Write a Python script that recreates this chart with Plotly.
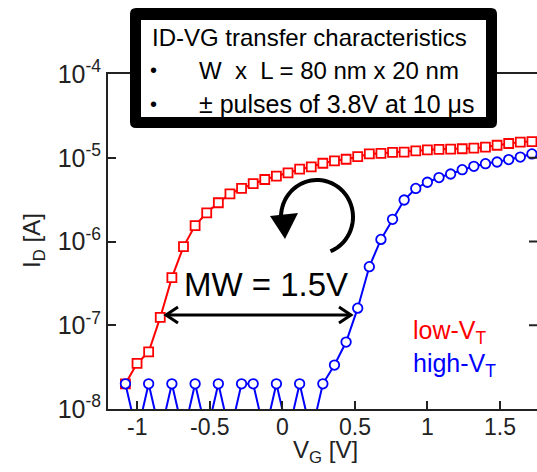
import math
import plotly.graph_objects as go

# Gate-voltage sweep (V)
vg = [-1.08, -1.00, -0.92, -0.84, -0.76, -0.68, -0.60, -0.52, -0.44, -0.36,
      -0.28, -0.20, -0.12, -0.04, 0.04, 0.12, 0.20, 0.28, 0.36, 0.44,
      0.52, 0.60, 0.68, 0.76, 0.84, 0.92, 1.00, 1.08, 1.16, 1.24,
      1.32, 1.40, 1.48, 1.56, 1.64, 1.72]

# Drain current, low-VT state (A)
id_low = [2.0e-8, 3.5e-8, 4.8e-8, 1.24e-7, 3.7e-7, 8.7e-7, 1.55e-6, 2.2e-6, 2.9e-6, 3.7e-6,
          4.3e-6, 4.9e-6, 5.5e-6, 6.05e-6, 6.6e-6, 7.3e-6, 7.8e-6, 8.6e-6, 9.2e-6, 9.6e-6,
          1.03e-5, 1.11e-5, 1.13e-5, 1.16e-5, 1.17e-5, 1.21e-5, 1.24e-5, 1.26e-5, 1.27e-5, 1.28e-5,
          1.30e-5, 1.34e-5, 1.41e-5, 1.48e-5, 1.54e-5, 1.56e-5]

# Drain current, high-VT state (A); noise floor below 1e-8 alternates with 2e-8
id_high = [2e-8, 5e-9, 2e-8, 5e-9, 2e-8, 5e-9, 2e-8, 5e-9, 2e-8, 5e-9,
           2e-8, 2e-8, 5e-9, 2e-8, 5e-9, 2e-8, 5e-9, 2e-8, 3.35e-8, 6.3e-8,
           1.6e-7, 5.0e-7, 1.06e-6, 1.84e-6, 3.13e-6, 4.3e-6, 5.1e-6, 5.8e-6, 6.4e-6, 7.2e-6,
           7.9e-6, 8.5e-6, 8.9e-6, 9.5e-6, 1.02e-5, 1.11e-5]

x_ticks = [-1, -0.5, 0, 0.5, 1, 1.5]
x_tick_labels = ["-1", "-0.5", "0", "0.5", "1", "1.5"]
y_ticks = [1e-8, 1e-7, 1e-6, 1e-5, 1e-4]
y_tick_labels = ["10<sup>-8</sup>", "10<sup>-7</sup>", "10<sup>-6</sup>",
                 "10<sup>-5</sup>", "10<sup>-4</sup>"]

W, H = 537, 472
L, R, T, B = 108, 537, 74, 409
FONT = "Liberation Sans, Arial, sans-serif"
INK = "#222222"


def px(xp):
    return (xp - L) / (R - L)


def py(yp):
    return (B - yp) / (B - T)


def path(points, close=False):
    s = "M " + " L ".join(f"{px(a):.5f},{py(b):.5f}" for a, b in points)
    return s + (" Z" if close else "")


def rounded_rect(x0, y0, x1, y1, r):
    p = lambda a, b: f"{px(a):.5f},{py(b):.5f}"
    return (f"M {p(x0 + r, y0)} L {p(x1 - r, y0)} Q {p(x1, y0)} {p(x1, y0 + r)} "
            f"L {p(x1, y1 - r)} Q {p(x1, y1)} {p(x1 - r, y1)} "
            f"L {p(x0 + r, y1)} Q {p(x0, y1)} {p(x0, y1 - r)} "
            f"L {p(x0, y0 + r)} Q {p(x0, y0)} {p(x0 + r, y0)} Z")


fig = go.Figure()
fig.add_trace(go.Scatter(
    x=vg, y=id_low, mode="lines+markers", name="low-VT",
    line=dict(color="#ff0000", width=2),
    marker=dict(symbol="square", size=9, color="white",
                line=dict(color="#ff0000", width=1.8)),
))
fig.add_trace(go.Scatter(
    x=vg, y=id_high, mode="lines+markers", name="high-VT",
    line=dict(color="#0000ff", width=2),
    marker=dict(symbol="circle", size=9.5, color="white",
                line=dict(color="#0000ff", width=1.8)),
))

shapes = []
# header box: thick black rounded frame with white panel
shapes.append(dict(type="path", xref="paper", yref="paper", layer="above",
                   path=rounded_rect(130, 8, 497, 128, 6),
                   fillcolor="black", line=dict(width=0)))
shapes.append(dict(type="path", xref="paper", yref="paper", layer="above",
                   path=path([(141, 20), (486, 20), (486, 117), (141, 117)], close=True),
                   fillcolor="white", line=dict(width=0)))

# memory-window double arrow
ay = 315
shapes.append(dict(type="path", xref="paper", yref="paper",
                   path=path([(168, ay), (349, ay)]),
                   line=dict(color="black", width=3)))
shapes.append(dict(type="path", xref="paper", yref="paper",
                   path=path([(178, ay - 8), (166, ay), (178, ay + 8)]),
                   line=dict(color="black", width=3)))
shapes.append(dict(type="path", xref="paper", yref="paper",
                   path=path([(339, ay - 8), (351, ay), (339, ay + 8)]),
                   line=dict(color="black", width=3)))

# counter-clockwise hysteresis arrow
cx, cy, rx, ry = 317, 217, 36, 37
arc = []
for k in range(0, 61):
    a = math.radians(-68 + (190 + 68) * k / 60)
    arc.append((cx + rx * math.cos(a), cy - ry * math.sin(a)))
shapes.append(dict(type="path", xref="paper", yref="paper",
                   path=path(arc), line=dict(color="black", width=4)))
shapes.append(dict(type="path", xref="paper", yref="paper",
                   path=path([(270, 216), (298, 213), (285, 239)], close=True),
                   fillcolor="black", line=dict(width=0)))

# inward ticks of the right-hand frame
for yt in [1e-7, 1e-6, 1e-5]:
    yy = B - (math.log10(yt) + 8) / 4 * (B - T)
    shapes.append(dict(type="line", xref="paper", yref="paper",
                       x0=px(529), x1=px(537), y0=py(yy), y1=py(yy),
                       line=dict(color=INK, width=2)))

annotations = [
    dict(text="ID-VG transfer characteristics", x=px(150), y=py(37), xanchor="left",
         yanchor="middle", font=dict(size=24, color="black")),
    dict(text="•", x=px(153), y=py(70), xanchor="center", yanchor="middle",
         font=dict(size=20, color="black")),
    dict(text="W  x  L = 80 nm x 20 nm", x=px(197), y=py(70), xanchor="left",
         yanchor="middle", font=dict(size=24, color="black")),
    dict(text="•", x=px(153), y=py(104), xanchor="center", yanchor="middle",
         font=dict(size=20, color="black")),
    dict(text="± pulses of 3.8V at 10 μs", x=px(197), y=py(104), xanchor="left",
         yanchor="middle", font=dict(size=25, color="black")),
    dict(text="MW = 1.5V", x=px(266), y=py(284), xanchor="center", yanchor="middle",
         font=dict(size=33, color="black")),
    dict(text=("<span style='color:#ff0000'>low-V<sub>T</sub></span><br>"
               "<span style='color:#0000ff'>high-V<sub>T</sub></span>"),
         x=px(411), y=py(348), xanchor="left", yanchor="middle", align="left",
         font=dict(size=25, color="#ff0000")),
    dict(text="I<sub>D</sub> [A]", x=px(33), y=py(241), xanchor="center",
         yanchor="middle", textangle=-90, font=dict(size=24, color=INK)),
    dict(text="V<sub>G</sub> [V]", x=px(325), y=py(452), xanchor="center",
         yanchor="middle", font=dict(size=24, color=INK)),
]
for a in annotations:
    a.update(xref="paper", yref="paper", showarrow=False)

# x tick labels placed on the x scale, just below the frame
for v, lab in zip(x_ticks, x_tick_labels):
    annotations.append(dict(text=lab, x=v, xref="x", y=py(427), yref="paper",
                            xanchor="center", yanchor="middle", showarrow=False,
                            font=dict(size=23, color=INK)))

fig.update_layout(
    width=W, height=H,
    margin=dict(l=L, r=W - R, t=T, b=H - B, pad=0),
    paper_bgcolor="white", plot_bgcolor="white",
    font=dict(family=FONT, color=INK),
    showlegend=False,
    shapes=shapes,
    annotations=annotations,
    xaxis=dict(range=[-1.2, 1.755], tickvals=x_ticks, ticktext=x_tick_labels,
               showticklabels=False,
               ticks="inside", ticklen=8, tickwidth=2, tickcolor=INK,
               showline=True, linecolor=INK, linewidth=2, mirror=True,
               showgrid=False, zeroline=False, tickfont=dict(size=23, color=INK)),
    yaxis=dict(type="log", range=[-8, -4], tickvals=y_ticks, ticktext=y_tick_labels,
               ticks="inside", ticklen=8, tickwidth=2, tickcolor=INK,
               showline=True, linecolor=INK, linewidth=2, mirror=False,
               showgrid=False, zeroline=False, tickfont=dict(size=25, color=INK)),
)

fig.write_html("out.html")
